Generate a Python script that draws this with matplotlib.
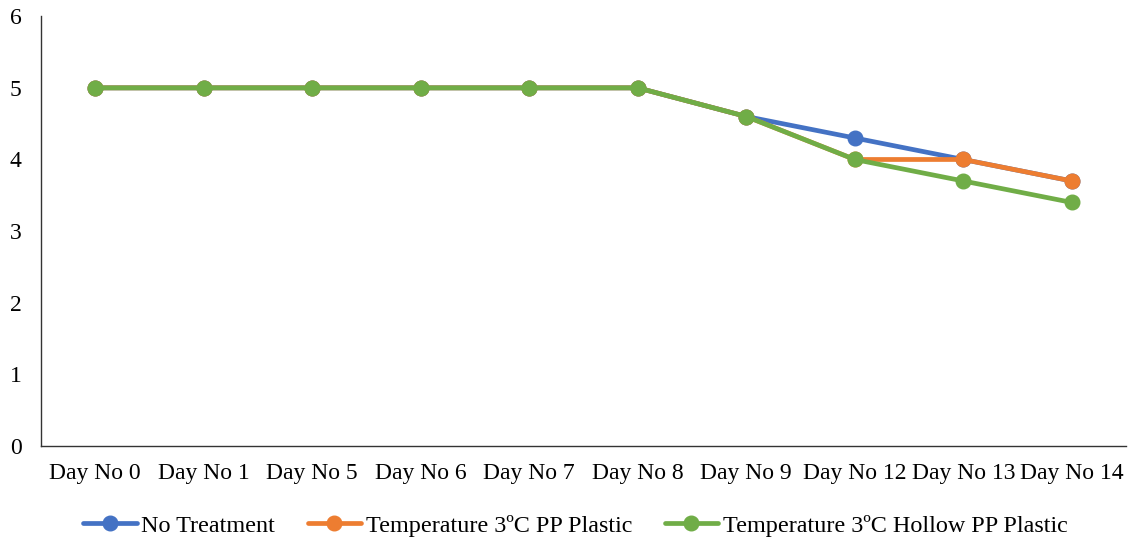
import matplotlib
matplotlib.use("Agg")
import matplotlib.pyplot as plt

categories = ["Day No 0", "Day No 1", "Day No 5", "Day No 6", "Day No 7",
              "Day No 8", "Day No 9", "Day No 12", "Day No 13", "Day No 14"]
no_treatment = [5, 5, 5, 5, 5, 5, 4.6, 4.3, 4.0, 3.7]
pp_plastic = [5, 5, 5, 5, 5, 5, 4.6, 4.0, 4.0, 3.7]
hollow_pp = [5, 5, 5, 5, 5, 5, 4.6, 4.0, 3.7, 3.4]
series_names = ["No Treatment", "Temperature 3ºC PP Plastic",
                "Temperature 3ºC Hollow PP Plastic"]
colors = ["#4472C4", "#ED7D31", "#70AD47"]

plt.rcParams['font.family'] = ['Liberation Serif', 'DejaVu Serif']

fig = plt.figure(figsize=(11.30, 5.41), dpi=100)
ax = fig.add_axes([0.0363, 0.1756, 0.9602, 0.7944])

x = list(range(len(categories)))
for vals, name, c in zip([no_treatment, pp_plastic, hollow_pp], series_names, colors):
    ax.plot(x, vals, color=c, lw=3.4, marker='o', markersize=10.5, label=name,
            solid_capstyle='round')

ax.set_xlim(-0.5, len(categories) - 0.5)
ax.set_ylim(0, 6)
ax.set_yticks(range(0, 7))
ax.set_xticks(x)
ax.set_xticklabels(categories)
ax.tick_params(axis='both', length=0, labelsize=17, colors='black')
ax.tick_params(axis='x', pad=12)
ax.tick_params(axis='y', pad=14)
for s in ['top', 'right']:
    ax.spines[s].set_visible(False)
for s in ['left', 'bottom']:
    ax.spines[s].set_color('#333333')
    ax.spines[s].set_linewidth(1.0)

ax.legend(loc='center', bbox_to_anchor=(0.4926, -0.186), ncol=3, frameon=False,
          fontsize=17.4, handlelength=2.2, columnspacing=1.35, handletextpad=0.2,
          borderpad=0, borderaxespad=0)

fig.savefig("out.png", dpi=100)
